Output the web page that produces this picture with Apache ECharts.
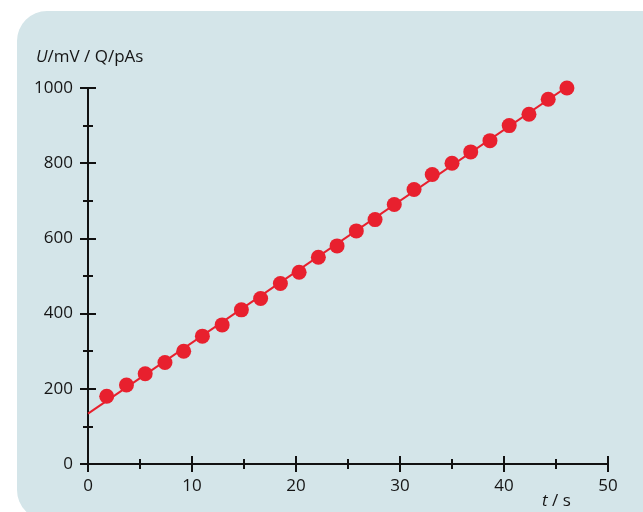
<!DOCTYPE html>
<html>
<head>
<meta charset="utf-8">
<script src="https://cdn.jsdelivr.net/npm/echarts@6/dist/echarts.min.js"></script>
<style>
  html, body { margin: 0; padding: 0; background: #fff; }
  #chart { width: 643px; height: 512px; }
</style>
</head>
<body>
<div id="chart"></div>
<script>
// Messpunkte (Zeit t in s, Spannung U in mV)
const zeit = [1.8, 3.7, 5.5, 7.4, 9.2, 11.0, 12.9, 14.75, 16.6, 18.5, 20.3, 22.15, 23.95,
              25.8, 27.6, 29.45, 31.35, 33.1, 35.0, 36.8, 38.65, 40.5, 42.4, 44.25, 46.05];
const spannung = [180, 210, 240, 270, 300, 340, 370, 410, 440, 480, 510, 550, 580,
                  620, 650, 690, 730, 770, 800, 830, 860, 900, 930, 970, 1000];
// Ausgleichsgerade (Anfang und Ende)
const geradeT = [0, 46.8];
const geradeU = [134, 1017];

const rot = '#e8202e';
const schrift = 'Open Sans';

const chart = echarts.init(document.getElementById('chart'));

function xAchse(innen, labels) {
    return {
        type: 'value', position: 'bottom', min: 0, max: 50, interval: 10,
        axisLine: { lineStyle: { color: '#111', width: 2 } },
        axisTick: { inside: innen, length: 8, lineStyle: { color: '#111', width: 2 } },
        minorTick: { show: true, splitNumber: 2, length: 5, lineStyle: { color: '#111', width: 2 } },
        splitLine: { show: false },
        axisLabel: { show: labels, margin: 14, color: '#151515', fontFamily: schrift, fontSize: 17 }
    };
}

function yAchse(innen, labels) {
    return {
        type: 'value', position: 'left', min: 0, max: 1000, interval: 200,
        axisLine: { lineStyle: { color: '#111', width: 2 } },
        axisTick: { inside: innen, length: 8, lineStyle: { color: '#111', width: 2 } },
        minorTick: { show: true, splitNumber: 2, length: 5, lineStyle: { color: '#111', width: 2 } },
        splitLine: { show: false },
        axisLabel: {
            show: labels, margin: 15, color: '#151515', fontFamily: schrift, fontSize: 17,
            formatter: v => String(v)
        }
    };
}

chart.setOption({
    animation: false,
    grid: { left: 88, right: 35, top: 88, bottom: 48 },
    graphic: [
        {
            type: 'rect', z: -10, silent: true,
            shape: { x: 17, y: 11, width: 700, height: 509, r: 30 },
            style: { fill: '#d4e5e9' }
        },
        {
            type: 'text', left: 36, top: 49, silent: true,
            style: {
                text: '{i|U}/mV / Q/pAs',
                fontFamily: schrift, fontSize: 17, fill: '#151515',
                rich: { i: { fontStyle: 'italic', fontFamily: schrift, fontSize: 17, fill: '#151515' } }
            }
        },
        {
            type: 'text', left: 542, top: 493, silent: true,
            style: {
                text: '{i|t} / s',
                fontFamily: schrift, fontSize: 17, fill: '#151515',
                rich: { i: { fontStyle: 'italic', fontFamily: schrift, fontSize: 17, fill: '#151515' } }
            }
        }
    ],
    xAxis: [xAchse(false, true), xAchse(true, false)],
    yAxis: [yAchse(false, true), yAchse(true, false)],
    series: [
        {
            type: 'line',
            data: geradeT.map((t, i) => [t, geradeU[i]]),
            showSymbol: false,
            lineStyle: { color: rot, width: 2 },
            z: 3
        },
        {
            type: 'scatter',
            data: zeit.map((t, i) => [t, spannung[i]]),
            symbolSize: 15,
            itemStyle: { color: rot, opacity: 1 },
            z: 4
        }
    ]
});
</script>
</body>
</html>
